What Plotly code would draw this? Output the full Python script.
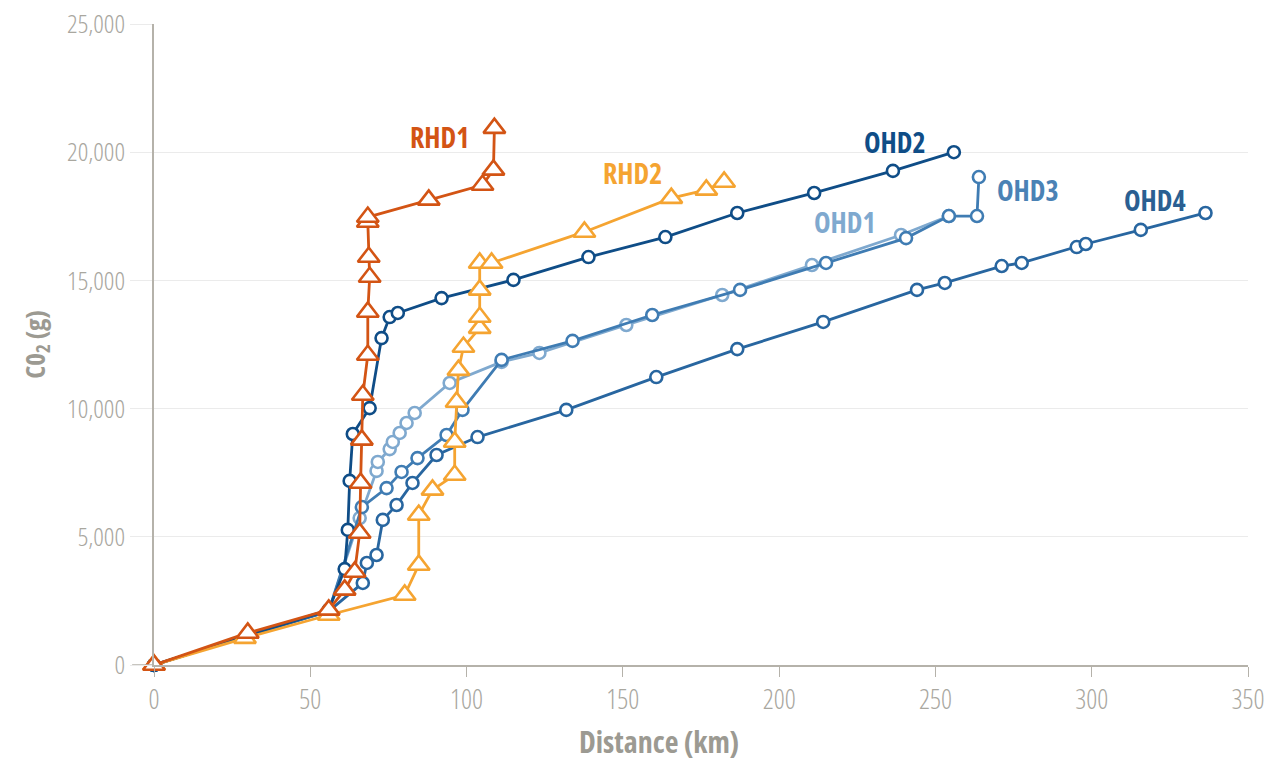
import plotly.graph_objects as go

# distance (km) / CO2 (g) per vehicle
ohd1_x = [0, 30.0, 55.9, 65.8, 71.2, 71.6, 75.4, 76.4, 78.6, 80.8, 83.4, 94.6, 111.2, 123.3, 151.1, 181.8, 210.5, 239.0, 254.3]
ohd1_y = [0, 1150, 2100, 5730, 7570, 7920, 8420, 8700, 9050, 9440, 9830, 11000, 11820, 12170, 13260, 14430, 15600, 16770, 17510]

ohd3_x = [0, 30.0, 55.9, 66.5, 74.4, 79.2, 84.3, 93.6, 98.7, 111.2, 133.9, 159.4, 187.5, 215.0, 240.6, 254.3, 263.3, 263.9]
ohd3_y = [0, 1150, 2100, 6160, 6900, 7530, 8070, 8970, 9950, 11900, 12640, 13650, 14630, 15680, 16650, 17510, 17510, 19030]

ohd4_x = [0, 30.0, 55.9, 66.8, 68.1, 71.2, 73.2, 77.6, 82.7, 90.4, 103.5, 131.9, 160.7, 186.6, 214.1, 244.1, 253.0, 271.2, 277.6, 295.2, 298.1, 315.7, 336.4]
ohd4_y = [0, 1150, 2100, 3200, 3980, 4290, 5660, 6240, 7100, 8190, 8890, 9950, 11230, 12320, 13380, 14630, 14900, 15560, 15680, 16300, 16420, 16970, 17630]

ohd2_x = [0, 30.0, 55.9, 61.0, 62.0, 62.6, 63.6, 69.0, 72.8, 75.4, 78.0, 92.0, 115.0, 139.0, 163.6, 186.6, 211.2, 236.4, 255.9]
ohd2_y = [0, 1170, 2150, 3740, 5270, 7180, 9010, 10020, 12750, 13570, 13730, 14310, 15020, 15910, 16690, 17630, 18410, 19270, 20000]

rhd2_x = [0, 29.1, 55.9, 80.2, 84.7, 84.7, 89.1, 96.2, 96.2, 96.8, 97.4, 99.0, 104.2, 104.2, 104.2, 104.2, 108.0, 137.7, 165.5, 176.7, 182.4]
rhd2_y = [0, 1050, 1950, 2730, 3900, 5850, 6830, 7410, 8700, 10260, 11500, 12400, 13140, 13570, 14630, 15680, 15680, 16890, 18210, 18530, 18840]

rhd1_x = [0, 30.0, 55.9, 61.0, 64.2, 65.8, 66.1, 66.5, 66.8, 68.4, 68.4, 69.0, 68.7, 68.4, 68.4, 87.9, 105.1, 108.6, 108.9]
rhd1_y = [0, 1250, 2150, 2930, 3630, 5150, 7100, 8780, 10530, 12090, 13770, 15130, 15910, 17280, 17470, 18140, 18720, 19310, 20940]

x_ticks = [0, 50, 100, 150, 200, 250, 300, 350]
y_ticks = [0, 5000, 10000, 15000, 20000, 25000]

labels = ["OHD1", "OHD3", "OHD4", "OHD2", "RHD2", "RHD1"]
colors = ["#7fa9cf", "#3f7cb3", "#2866a0", "#0f4d87", "#f5a431", "#d35414"]
label_colors = ["#7fa9cf", "#4a82b5", "#2a5f92", "#0f4d87", "#f5a431", "#d35414"]
label_pos = [(221.1, 17280), (279.6, 18530), (320.4, 18140), (237.1, 20400), (153.0, 19190), (91.4, 20590)]

series = [(ohd1_x, ohd1_y), (ohd3_x, ohd3_y), (ohd4_x, ohd4_y),
          (ohd2_x, ohd2_y), (rhd2_x, rhd2_y), (rhd1_x, rhd1_y)]

FONT = "Open Sans, DejaVu Sans"


def narrow(s):
    return "<span style='font-stretch:75%%'>%s</span>" % s


fig = go.Figure()
for (xs, ys), name, c in zip(series, labels, colors):
    tri = name.startswith("RHD")
    fig.add_trace(go.Scatter(
        x=xs, y=ys, name=name, mode="lines+markers", cliponaxis=False,
        line=dict(color=c, width=2.8),
        marker=dict(symbol="triangle-up" if tri else "circle",
                    size=19 if tri else 12, color="white",
                    line=dict(color=c, width=2.6)),
    ))

for name, c, (lx, ly) in zip(labels, label_colors, label_pos):
    fig.add_annotation(x=lx, y=ly, text=narrow("<b>%s</b>" % name), showarrow=False,
                       font=dict(family=FONT, size=28, color=c))

# x title sits a bit left of the plot centre in the original
fig.add_annotation(xref="paper", yref="paper", x=0.4616, y=-0.12, yanchor="middle",
                   text=narrow("<b>Distance (km)</b>"), showarrow=False,
                   font=dict(family=FONT, size=30, color="#9c9a92"))

# x axis line runs a little past the y axis on the left
fig.add_shape(type="line", xref="paper", yref="y", x0=-0.02, x1=0, y0=0, y1=0,
              line=dict(color="#b5b2aa", width=1.5))

fig.update_layout(
    width=1273, height=762,
    margin=dict(l=146, r=33, t=16, b=105),
    plot_bgcolor="white", paper_bgcolor="white",
    showlegend=False,
    font=dict(family=FONT, color="#a6a49c"),
)
fig.update_xaxes(
    range=[0, 350], tickvals=x_ticks, ticktext=[narrow(v) for v in x_ticks],
    showgrid=False, zeroline=False, ticklabeloverflow="allow", automargin=False,
    showline=True, linecolor="#b5b2aa", linewidth=1.5,
    ticks="outside", ticklen=10, tickcolor="#b5b2aa", tickwidth=1,
    tickfont=dict(size=27, color="#a9a79f", weight=300),
)
fig.update_yaxes(
    range=[0, 25000], tickvals=y_ticks, ticktext=[narrow(f"{v:,}") for v in y_ticks],
    showgrid=True, gridcolor="#ebebeb", ticklabeloverflow="allow", automargin=False,
    zeroline=False, showline=True, linecolor="#b5b2aa", linewidth=1.5,
    ticks="outside", ticklen=22, tickcolor="#ebebeb",
    tickfont=dict(size=26, color="#a9a79f", weight=300),
    title=dict(text=narrow("<b>C0<sub>2</sub> (g)</b>"), standoff=14,
               font=dict(size=27, color="#9c9a92")),
)

fig.write_html("out.html")
